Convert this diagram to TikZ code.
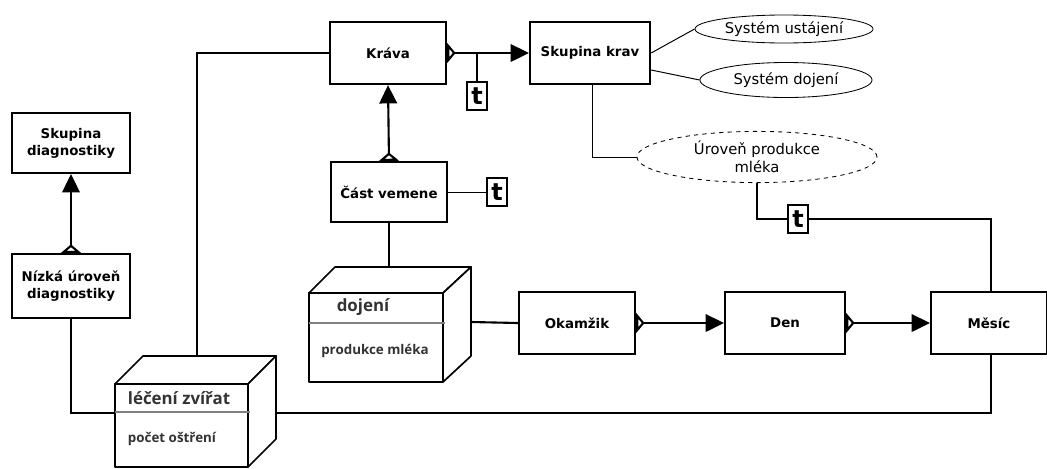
\documentclass[tikz,border=0pt]{standalone}
\usepackage{fontspec}
\setmainfont{DejaVu Sans}
\newfontfamily\cubefont{Open Sans}
\usetikzlibrary{shapes,arrows.meta,positioning,calc}

\tikzset{
  crow/.tip={Triangle[open,reversed,length=6pt,width=14pt]},
  solid head/.tip={Triangle[length=13pt,width=12.5pt]}
}

\begin{document}
\begin{tikzpicture}[x=0.025cm,y=-0.025cm,
    entity/.style={draw, line width=1.6pt, fill=white, minimum width=2.9cm, minimum height=1.55cm, align=center, inner sep=1pt, font=\bfseries\fontsize{9.5}{12}\selectfont},
    attr/.style={draw, ellipse, line width=0.6pt, inner sep=0pt, align=center, font=\fontsize{10.5}{12.5}\selectfont},
    tbox/.style={draw, line width=1.4pt, fill=white, minimum width=0.5cm, minimum height=0.7cm, inner sep=0pt, font=\bfseries\fontsize{17}{17}\selectfont},
    link/.style={line width=1.5pt},
    thin link/.style={line width=0.7pt},
    cube/.style={draw, line width=1.2pt, fill=white, line join=round},
    cube title/.style={text=black!80, font=\cubefont\bfseries\fontsize{12}{14}\selectfont},
    cube text/.style={text=black!80, font=\cubefont\bfseries\fontsize{9.5}{12}\selectfont}]
    \useasboundingbox (0,0) rectangle (1047,468);

    % Entities
    \node[entity] (krava) at (388,53) {Kráva};
    \node[entity, minimum width=3cm] (skupina) at (590,53) {Skupina krav};
    \node[entity, minimum height=1.5cm] (cast) at (389,192) {Část vemene};
    \node[entity] (okamzik) at (577,323) {Okamžik};
    \node[entity, minimum width=3cm] (den) at (785,323) {Den};
    \node[entity] (mesic) at (989,323) {Měsíc};
    \node[entity, minimum width=2.95cm, minimum height=1.5cm] (skdiag) at (71,143) {Skupina\\diagnostiky};
    \node[entity, minimum width=2.95cm, minimum height=1.6cm] (nizka) at (71,286) {Nízká úroveň\\diagnostiky};

    % Attributes
    \node[attr, minimum width=4.45cm, minimum height=0.7cm] (ustajeni) at (784,29) {Systém ustájení};
    \node[attr, minimum width=4.3cm, minimum height=0.875cm] (dojeni) at (786,80) {Systém dojení};
    \node[attr, dashed, minimum width=6cm, minimum height=1.28cm] (uroven) at (757,157) {Úroveň produkce\\mléka};

    % Time markers
    \node[tbox] (t1) at (477,96) {t};
    \node[tbox] (t2) at (497,192) {t};
    \node[tbox] (t3) at (798,219) {t};

    % Cube anchors
    \coordinate (dojtop) at (389,267);
    \coordinate (dojright) at (471,322);
    \coordinate (lectop) at (197,356);

    % Connectors
    \draw[link, crow-solid head] (krava.east) -- (skupina.west);
    \draw[link] (t1.north) -- (t1.north |- krava.east);
    \draw[link, crow-solid head] (cast.north) -- (krava.south);
    \draw[thin link] (cast.east) -- (t2.west);
    \draw[link] (cast.south) -- (dojtop);
    \draw[link] (dojright) -- (okamzik.west);
    \draw[link, crow-solid head] (okamzik.east) -- (den.west);
    \draw[link, crow-solid head] (den.east) -- (mesic.west);
    \draw[link, crow-solid head] (nizka.north) -- (skdiag.south);
    \draw[link] (lectop) |- (krava.west);
    \draw[link] ($(mesic.south)+(2,0)$) -- ++(0,58) -| (nizka.south);
    \draw[thin link] ($(skupina.south)+(2,0)$) |- (uroven.west);
    \draw[thin link] (skupina.east) -- (ustajeni.west);
    \draw[thin link] ($(skupina.east)+(0,17)$) -- (dojeni.west);
    \draw[link] (uroven.south) |- (t3.west);
    \draw[link] (t3.east) -| ($(mesic.north)+(2,0)$);

    % Cube: dojeni
    \filldraw[cube] (309,293) rectangle (443,382);
    \filldraw[cube] (309,293) -- (335,267) -- (471,267) -- (443,293) -- cycle;
    \filldraw[cube] (443,293) -- (471,267) -- (471,356) -- (443,382) -- cycle;
    \draw[gray, line width=1.5pt] (309,323) -- (445,323);
    \node[cube title] (dojtitle) at (363,307) {dojení};
    \node[cube text] (dojtext) at (375,351) {produkce mléka};

    % Cube: leceni zvirat
    \filldraw[cube] (115,384) rectangle (248,467);
    \filldraw[cube] (115,384) -- (143,356) -- (276,356) -- (248,384) -- cycle;
    \filldraw[cube] (248,384) -- (276,356) -- (276,439) -- (248,467) -- cycle;
    \draw[gray, line width=1.5pt] (115,412) -- (250,412);
    \node[cube title] (lectitle) at (179,398) {léčení zvířat};
    \node[cube text] (lectext) at (172,439) {počet oštření};
\end{tikzpicture}
\end{document}
